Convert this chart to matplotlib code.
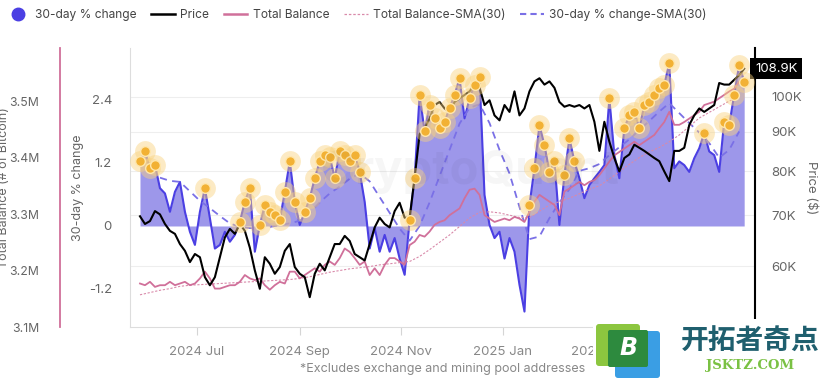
import numpy as np
import pandas as pd
import matplotlib
matplotlib.use('Agg')
import matplotlib.pyplot as plt
import matplotlib.dates as mdates
import matplotlib.transforms as mtransforms
from matplotlib.lines import Line2D
from matplotlib.patches import FancyBboxPatch, Rectangle

plt.rcParams['font.family'] = ['Inter', 'Noto Sans CJK SC', 'DejaVu Sans']

# ---- data (3-day samples from 2024-05-28) ----
dates = pd.date_range('2024-05-28', periods=122, freq='3D')
change = [1.23, 1.42, 1.10, 1.16, 0.72, 0.62, 0.27, 0.65, 0.84, 0.27,
          -0.11, -0.36, 0.27, 0.72, 0.15, -0.43, -0.36, -0.11, -0.30, -0.17,
          0.08, 0.46, 0.72, -0.49, 0.02, 0.40, 0.27, 0.21, 0.11, 0.65,
          1.23, 0.46, 0.02, 0.27, 0.53, 0.91, 1.23, 1.35, 1.32, 0.91,
          1.42, 1.35, 1.23, 1.35, 1.03, 0.46, -0.43, -0.04, -0.49, -0.17,
          -0.49, -0.23, -0.62, -0.93, 0.11, 0.91, 2.50, 1.80, 2.30, 2.05,
          1.86, 1.99, 2.24, 2.50, 2.81, 2.05, 2.43, 2.69, 2.84, 0.59,
          0.02, -0.23, -0.11, -0.62, -0.23, -0.49, -1.12, -1.63, 0.40, 1.10,
          1.92, 1.54, 1.03, 1.23, 0.02, 0.97, 1.67, 1.23, 0.91, 0.53,
          0.78, 0.91, 1.03, 1.16, 2.43, 1.35, 0.91, 1.86, 2.11, 2.18,
          1.86, 2.30, 2.37, 2.50, 2.62, 2.69, 3.10, 1.10, 1.23, 1.16,
          1.03, 1.29, 1.48, 1.77, 1.42, 1.35, 1.03, 1.99, 1.92, 2.50,
          3.07, 2.75]
price_k = [69.8, 68.2, 68.8, 70.9, 70.2, 68.2, 66.8, 66.2, 64.2, 62.9,
           60.8, 62.3, 61.7, 58.1, 56.7, 58.1, 61.7, 65.5, 67.2, 66.2,
           68.2, 66.8, 63.5, 59.3, 56.1, 61.7, 60.5, 58.7, 59.9, 62.9,
           64.2, 59.9, 58.7, 58.1, 54.7, 58.7, 60.5, 59.3, 61.7, 64.2,
           64.2, 65.8, 64.8, 62.3, 61.7, 61.1, 64.2, 67.5, 69.5, 68.2,
           67.5, 70.9, 72.7, 69.5, 69.5, 78.4, 89.4, 91.0, 93.7, 97.6,
           98.5, 96.6, 95.6, 98.5, 99.6, 100.6, 101.7, 103.8, 102.8, 97.6,
           99.0, 94.6, 93.2, 97.6, 95.6, 101.7, 94.6, 96.6, 101.7, 104.8,
           105.8, 103.8, 104.8, 102.8, 98.5, 97.1, 97.6, 97.1, 97.6, 96.6,
           97.6, 92.8, 85.0, 92.8, 87.4, 83.2, 79.9, 83.2, 84.1, 86.6,
           85.8, 85.0, 84.1, 83.2, 82.4, 79.9, 77.6, 85.0, 85.0, 85.8,
           91.9, 94.6, 96.6, 95.6, 96.6, 97.6, 104.3, 103.8, 103.8, 105.3,
           106.8, 108.9]
balance_m = [3.177, 3.174, 3.180, 3.171, 3.174, 3.174, 3.180, 3.174, 3.177, 3.180,
             3.174, 3.177, 3.186, 3.198, 3.186, 3.168, 3.168, 3.171, 3.174, 3.174,
             3.180, 3.192, 3.186, 3.183, 3.186, 3.174, 3.166, 3.174, 3.180, 3.177,
             3.198, 3.198, 3.186, 3.192, 3.198, 3.204, 3.198, 3.210, 3.216, 3.210,
             3.222, 3.239, 3.233, 3.222, 3.210, 3.216, 3.192, 3.204, 3.192, 3.210,
             3.222, 3.222, 3.216, 3.210, 3.245, 3.251, 3.263, 3.260, 3.269, 3.281,
             3.286, 3.289, 3.298, 3.304, 3.310, 3.328, 3.343, 3.345, 3.334, 3.298,
             3.292, 3.286, 3.289, 3.292, 3.289, 3.295, 3.292, 3.286, 3.304, 3.322,
             3.334, 3.328, 3.322, 3.316, 3.298, 3.340, 3.345, 3.351, 3.357, 3.351,
             3.357, 3.360, 3.369, 3.381, 3.393, 3.404, 3.410, 3.416, 3.422, 3.428,
             3.422, 3.428, 3.434, 3.440, 3.452, 3.463, 3.481, 3.458, 3.458, 3.463,
             3.469, 3.475, 3.481, 3.493, 3.496, 3.499, 3.505, 3.511, 3.517, 3.522,
             3.534, 3.540]

# SMA(30) lines, 6-day samples
sma_dates = pd.date_range('2024-05-28', periods=61, freq='6D')
change_sma = [np.nan, np.nan, 0.92, 0.86, 0.84, 0.66, 0.48, 0.34, 0.19, 0.05,
              -0.02, -0.04, -0.05, -0.02, 0.02, 0.05, 0.10, 0.25, 0.45, 0.62,
              0.75, 0.90, 1.00, 0.85, 0.55, 0.25, -0.05, -0.28, 0.0, 0.45,
              0.95, 1.45, 1.95, 2.25, 2.32, 1.96, 1.45, 1.00, 0.36, -0.25,
              -0.20, 0.15, 0.45, 0.70, 1.05, 1.10, 1.18, 1.35, 1.50, 1.65,
              1.83, 2.00, 2.18, 2.34, 2.15, 1.96, 1.78, 1.58, 1.30, 1.45, 1.80]
balance_sma = [3.157, 3.161, 3.165, 3.168, 3.172, 3.174, 3.175, 3.176, 3.177, 3.178,
               3.179, 3.180, 3.181, 3.182, 3.183, 3.184, 3.186, 3.189, 3.193, 3.197,
               3.200, 3.203, 3.205, 3.207, 3.210, 3.212, 3.214, 3.216, 3.225, 3.237,
               3.250, 3.263, 3.278, 3.293, 3.303, 3.304, 3.302, 3.298, 3.294, 3.294,
               3.305, 3.316, 3.322, 3.328, 3.336, 3.344, 3.350, 3.362, 3.375, 3.388,
               3.400, 3.410, 3.418, 3.428, 3.440, 3.455, 3.470, 3.480, 3.490, 3.500, 3.508]

change_ticks = [-1.2, 0, 1.2, 2.4]
price_ticks = [60, 70, 80, 90, 100]
balance_ticks = [3.1, 3.2, 3.3, 3.4, 3.5]

C_FILL = '#9d97ea'
C_LINE = '#4b3fe3'
C_SMA = '#7a70e6'
C_BAL = '#d0709a'
C_BAL_SMA = '#d98aaa'
C_DOT = '#f2b134'
C_TXT = '#666666'

change = np.array(change)
sma_on_dates = np.interp(dates.values.astype('int64'),
                         sma_dates.values.astype('int64'), np.array(change_sma))
hot = np.isnan(sma_on_dates) | (change > np.nan_to_num(sma_on_dates, nan=-9))

W, H = 836, 381
fig = plt.figure(figsize=(W / 100, H / 100), dpi=100)
pos = [130 / W, 1 - 327 / H, 625 / W, 279 / H]

ax_p = fig.add_axes(pos)                              # price axis + grid
ax_c = fig.add_axes(pos, sharex=ax_p)                 # 30-day change
ax_b = fig.add_axes(pos, sharex=ax_p)                 # total balance
ax_pl = fig.add_axes(pos, sharex=ax_p, sharey=ax_p)   # price line on top
ax_d = fig.add_axes(pos, sharex=ax_p, sharey=ax_c)    # highlight dots

for a in (ax_c, ax_b, ax_pl, ax_d):
    a.patch.set_visible(False)
    a.xaxis.set_visible(False)
    for s in a.spines.values():
        s.set_visible(False)
for a in (ax_pl, ax_d):
    a.yaxis.set_visible(False)

# price axis
ax_p.set_yscale('log')
ax_p.set_ylim(50.0, 115.9)
ax_p.yaxis.set_major_locator(matplotlib.ticker.FixedLocator(price_ticks))
ax_p.yaxis.set_minor_locator(matplotlib.ticker.NullLocator())
ax_p.set_yticklabels([f'{t}K' for t in price_ticks])
ax_p.yaxis.tick_right()
ax_p.yaxis.set_label_position('right')
ax_p.tick_params(axis='y', length=0, pad=12, labelsize=9.5, labelcolor=C_TXT)
ax_p.set_ylabel('Price ($)', rotation=270, color=C_TXT, fontsize=9.5)
ax_p.yaxis.set_label_coords((818 - 130) / 625, 0.5)
ax_p.grid(axis='y', color='#eeeeee', lw=0.8)
ax_p.set_axisbelow(True)
for k in ('top', 'left'):
    ax_p.spines[k].set_visible(False)
ax_p.spines['right'].set_color('black')
ax_p.spines['right'].set_linewidth(1.5)
ax_p.spines['bottom'].set_color('#dddddd')

ax_p.set_xlim(pd.Timestamp('2024-05-22'), pd.Timestamp('2025-06-01 12:00'))
ax_p.xaxis.set_major_locator(mdates.MonthLocator(bymonth=[1, 3, 7, 9, 11]))
ax_p.xaxis.set_major_formatter(mdates.DateFormatter('%Y %b'))
ax_p.tick_params(axis='x', length=6, color='#d5d5d5', pad=8, labelsize=9.5, labelcolor='#888888')

# 30-day change axis
ax_c.set_ylim(-1.924, 3.39)
ax_c.set_yticks(change_ticks)
ax_c.set_yticklabels(['-1.2', '0', '1.2', '2.4'])
ax_c.spines['left'].set_visible(True)
ax_c.spines['left'].set_color('#dddddd')
ax_c.tick_params(axis='y', length=0, pad=13, labelsize=9.5, labelcolor=C_TXT)
ax_c.set_ylabel('30-day % change', color=C_TXT, fontsize=9)
ax_c.yaxis.set_label_coords(-(130 - 84) / 625, 0.5)
ax_c.fill_between(dates, 0, change, color=C_FILL, lw=0)
ax_c.plot(dates, change, color=C_LINE, lw=1.5)
ax_c.plot(sma_dates, change_sma, color=C_SMA, lw=1.3, ls=(0, (4, 3)))

# total balance axis
ax_b.set_ylim(3.1, 3.594)
ax_b.set_yticks(balance_ticks)
ax_b.set_yticklabels([f'{t:.1f}M' for t in balance_ticks])
ax_b.yaxis.tick_left()
ax_b.yaxis.set_label_position('left')
ax_b.spines['left'].set_visible(True)
ax_b.spines['left'].set_position(('axes', -70 / 625))
ax_b.spines['left'].set_color(C_BAL)
ax_b.spines['left'].set_linewidth(1.3)
ax_b.tick_params(axis='y', length=0, pad=15, labelsize=8.8, labelcolor=C_TXT)
ax_b.set_ylabel('Total Balance (# of Bitcoin)', color=C_TXT, fontsize=9)
ax_b.yaxis.set_label_coords(-(130 - 10) / 625, 0.5)
ax_b.plot(sma_dates, balance_sma, color=C_BAL_SMA, lw=0.8, ls=(0, (2, 1.5)))
ax_b.plot(dates, balance_m, color=C_BAL, lw=1.3)

# price line
ax_pl.plot(dates, price_k, color='black', lw=1.5)
trans = mtransforms.blended_transform_factory(ax_p.transAxes, ax_p.transData)
ax_pl.text(1.0, price_k[-1], f'{price_k[-1]}K', transform=trans, ha='left', va='center',
           color='white', fontsize=9.5,
           bbox=dict(boxstyle='square,pad=0.35', fc='black', ec='none'))

# highlighted points
ax_d.plot(dates[hot], change[hot], 'o', ms=15, color='#f9d27e', alpha=0.45, mew=0)
ax_d.plot(dates[hot], change[hot], 'o', ms=7, color=C_DOT, mec='#ffe7ad', mew=1)

# faint watermark
fig.text(470 / W, 1 - 172 / H, 'CryptoQuant', fontsize=34, color='#000000', alpha=0.035,
         ha='center', va='center', fontweight='bold')

# legend
handles = [Line2D([], [], marker='o', ls='none', color=C_LINE, ms=9),
           Line2D([], [], color='black', lw=1.8),
           Line2D([], [], color=C_BAL, lw=1.8),
           Line2D([], [], color=C_BAL_SMA, lw=0.9, ls=(0, (2, 1.5))),
           Line2D([], [], color=C_SMA, lw=1.5, ls=(0, (3, 2)))]
labels = ['30-day % change', 'Price', 'Total Balance', 'Total Balance-SMA(30)',
          '30-day % change-SMA(30)']
fig.legend(handles, labels, loc='upper left', bbox_to_anchor=(-0.006, 1.005), ncol=5,
           frameon=False, fontsize=8.6, handlelength=2.0, columnspacing=1.2,
           handletextpad=0.45, labelcolor='#444444')

# footnote
fig.text(443 / W, 1 - 369 / H, '*Excludes exchange and mining pool addresses',
         ha='center', va='center', fontsize=9, color='#888888')

# site logo in the corner
def px(x, y):
    return (x / 100, (H - y) / 100)

it = fig.dpi_scale_trans
fig.add_artist(Rectangle(px(593, 381), (W - 593) / 100, 62 / 100, transform=it,
                         fc='white', ec='none'))
fig.add_artist(FancyBboxPatch(px(615, 378), 45 / 100, 47 / 100, transform=it,
                              boxstyle='round,pad=0,rounding_size=0.03', fc='#3a9ee4', ec='none'))
fig.add_artist(FancyBboxPatch(px(596, 366), 44 / 100, 42 / 100, transform=it,
                              boxstyle='round,pad=0,rounding_size=0.03', fc='#8cc63f', ec='none'))
fig.add_artist(FancyBboxPatch(px(608, 367), 40 / 100, 37 / 100, transform=it,
                              boxstyle='round,pad=0,rounding_size=0.02', fc='#2d8a3e', ec='none'))
fig.text(628 / W, 1 - 348 / H, 'B', fontsize=17, fontweight='bold', fontstyle='italic',
         color='white', ha='center', va='center', family=['DejaVu Sans'])
fig.text(750 / W, 1 - 342 / H, '开拓者奇点', fontsize=20, fontweight='bold',
         color='#1f5f6e', ha='center', va='center', family=['Noto Sans CJK SC', 'DejaVu Sans'])
fig.text(750 / W, 1 - 366 / H, 'JSKTZ.COM', fontsize=9.5, fontweight='bold',
         color='#7ac143', ha='center', va='center', family=['DejaVu Serif'])

fig.savefig('out.png', dpi=100)
